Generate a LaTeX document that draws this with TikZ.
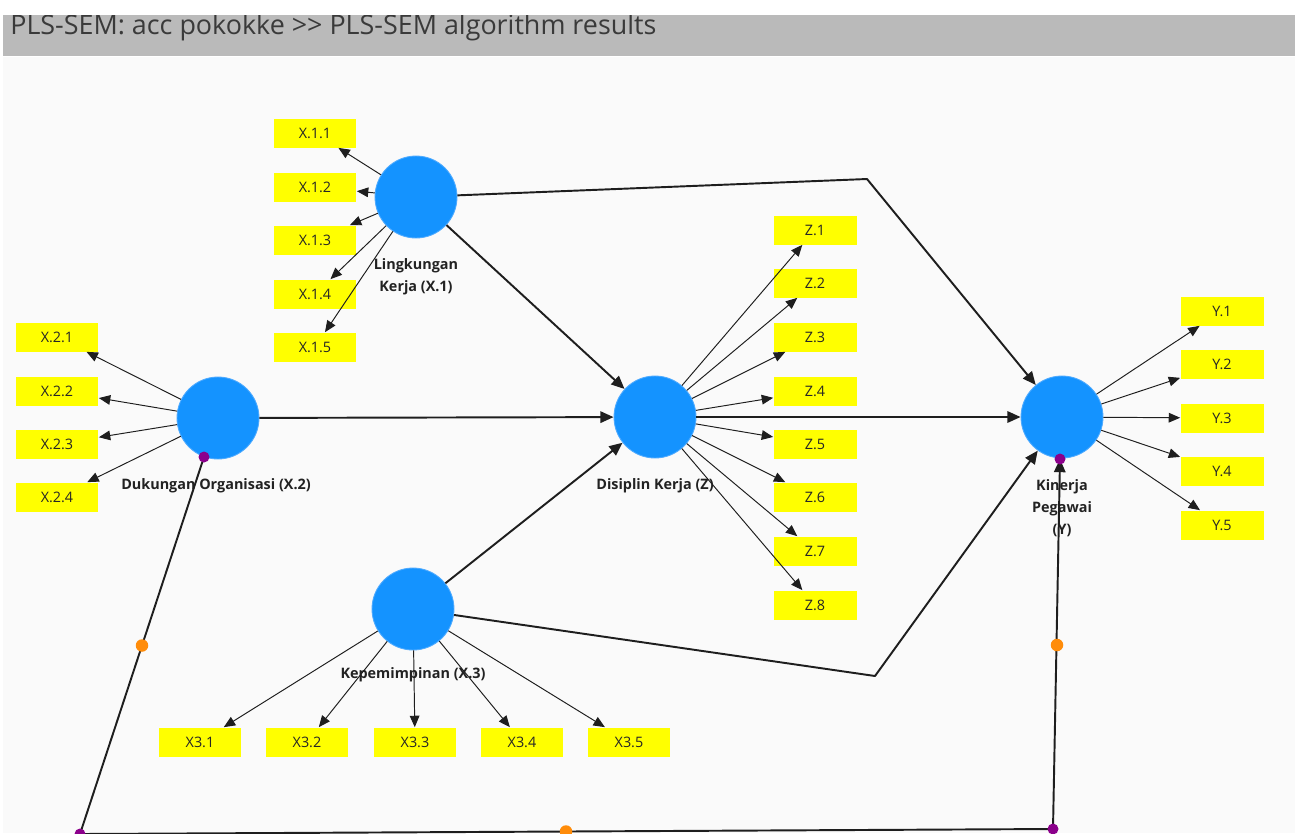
\documentclass[tikz,border=0pt]{standalone}
\usepackage{fontspec}
\setmainfont{Open Sans}
\usetikzlibrary{arrows.meta,calc}
\definecolor{bgc}{HTML}{FAFAFA}
\definecolor{bandc}{HTML}{BABABA}
\definecolor{titc}{HTML}{3A3A3A}
\definecolor{lvblue}{HTML}{1493FF}
\definecolor{lvrim}{HTML}{4DAAFF}
\definecolor{indy}{HTML}{FFFF00}
\definecolor{linec}{HTML}{1E1E1E}
\definecolor{labc}{HTML}{222222}
\definecolor{purp}{HTML}{8B008B}
\definecolor{orng}{HTML}{FF8C0A}
\begin{document}
\begin{tikzpicture}[x=0.02cm,y=-0.02cm,
  lv/.style={circle,fill=lvblue,draw=lvrim,line width=0.5pt,minimum size=1.64cm,inner sep=0pt},
  ind/.style={fill=indy,minimum width=1.66cm,minimum height=0.58cm,inner sep=0pt,font=\fontsize{8.2}{9}\selectfont,text=black!85},
  lab/.style={font=\bfseries\fontsize{8.2}{12.5}\selectfont,align=center,text=labc},
  outer/.style={draw=linec,line width=0.55pt,-{Triangle[length=6.5pt,width=5.5pt]}},
  inner/.style={draw=linec,line width=1.1pt,-{Triangle[length=7.5pt,width=6.5pt]}},
  modline/.style={draw=linec,line width=1.1pt},
  pdot/.style={circle,fill=purp,minimum size=0.22cm,inner sep=0pt},
  odot/.style={circle,fill=orng,minimum size=0.25cm,inner sep=0pt}]
\useasboundingbox (0,0) rectangle (1302,833);
\fill[white] (0,0) rectangle (1302,833);
\fill[bgc] (3,57) rectangle (1295,833);
\fill[bandc] (3,15) rectangle (1295,56);
\begin{scope}
\clip (3,15) rectangle (1295,56);
\node[anchor=base west,font=\fontsize{15.3}{16}\selectfont,text=titc,inner sep=0pt] (title) at (10,34) {PLS-SEM: acc pokokke >{}> PLS-SEM algorithm results};
\end{scope}

% labels
\node[lab] (labX1) at (416,277) {Lingkungan\\Kerja (X.1)};
\node[lab] (labX2) at (216,486) {Dukungan Organisasi (X.2)};
\node[lab] (labZ) at (655,486) {Disiplin Kerja (Z)};
\node[lab] (labY) at (1062,508) {Kinerja\\Pegawai\\(Y)};
\node[lab] (labX3) at (413,675) {Kepemimpinan (X.3)};

% latent variables
\node[lv] (X1) at (416,197) {};
\node[lv] (X2) at (218,418) {};
\node[lv] (Z) at (655,417) {};
\node[lv] (Y) at (1062,417) {};
\node[lv] (X3) at (413,609) {};

% indicators
\foreach \i/\y in {1/133,2/187,3/240,4/294,5/347}
  \node[ind] (x1\i) at (315,\y) {X.1.\i};
\foreach \i/\y in {1/337,2/391,3/444,4/497}
  \node[ind] (x2\i) at (57,\y) {X.2.\i};
\foreach \i/\y in {1/230,2/283,3/337,4/391,5/444,6/497,7/551,8/605}
  \node[ind] (z\i) at (815,\y) {Z.\i};
\foreach \i/\y in {1/311,2/364,3/418,4/471,5/525}
  \node[ind] (y\i) at (1222,\y) {Y.\i};
\foreach \i/\x in {1/200,2/307,3/415,4/522,5/629}
  \node[ind] (x3\i) at (\x,742) {X3.\i};

% outer model
\foreach \i in {1,...,5} \draw[outer] (X1) -- (x1\i);
\foreach \i in {1,...,4} \draw[outer] (X2) -- (x2\i);
\foreach \i in {1,...,8} \draw[outer] (Z) -- (z\i);
\foreach \i in {1,...,5} \draw[outer] (Y) -- (y\i);
\foreach \i in {1,...,5} \draw[outer] (X3) -- (x3\i);

% inner model
\coordinate (bA) at (867,179);
\coordinate (bB) at (875,676);
\draw[inner] (X1) -- (Z);
\draw[inner] (X2) -- (Z);
\draw[inner] (X3) -- (Z);
\draw[inner] (Z) -- (Y);
\draw[inner,line join=round] (X1) -- (bA) -- (Y);
\draw[inner,line join=round] (X3) -- (bB) -- (Y);

% moderating effect
\coordinate (dX2) at (204,457);
\coordinate (c1) at (80,834);
\coordinate (c2) at (1053,829);
\coordinate (dY) at (1060,459);
\draw[modline] (dX2) -- (c1) -- (c2);
\draw[inner] (c2) -- (dY);
\node[pdot] (pd1) at (dX2) {};
\node[pdot] (pd2) at (c1) {};
\node[pdot] (pd3) at (c2) {};
\node[pdot] (pd4) at (dY) {};
\node[odot] (od1) at ($(dX2)!0.5!(c1)$) {};
\node[odot] (od2) at (566,831.5) {};
\node[odot] (od3) at (1057,645) {};
\end{tikzpicture}
\end{document}
